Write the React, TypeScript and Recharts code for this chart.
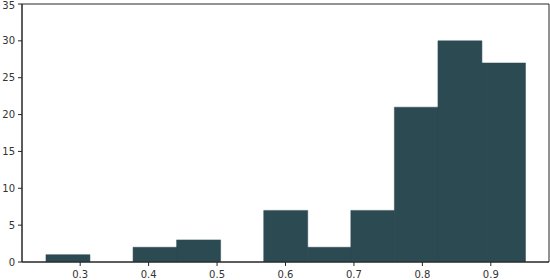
import React from 'react';
import { BarChart, Bar, XAxis, YAxis, ReferenceArea } from 'recharts';

// histogram bins (left edges) and counts
const binStarts = [0.25, 0.3136, 0.3773, 0.4409, 0.5045, 0.5682, 0.6318, 0.6955, 0.7591, 0.8227, 0.8864];
const binEnd = 0.95;
const counts = [1, 0, 2, 3, 0, 7, 2, 7, 21, 30, 27];

const xTicks = [0.3, 0.4, 0.5, 0.6, 0.7, 0.8, 0.9];
const yTicks = [0, 5, 10, 15, 20, 25, 30, 35];
const xDomain: [number, number] = [0.215, 0.985];
const yDomain: [number, number] = [0, 35];

const data = counts.map((c, i) => ({
  bin: String(i),
  center: (binStarts[i] + (binStarts[i + 1] ?? binEnd)) / 2,
  count: c,
}));

const W = 550;
const H = 280;
const M = { top: 4, right: 1, left: 0, bottom: 0 };
const Y_W = 22;
const X_H = 18;
const plotW = W - M.left - M.right - Y_W;
const span = xDomain[1] - xDomain[0];
const padL = (plotW * (binStarts[0] - xDomain[0])) / span;
const padR = (plotW * (xDomain[1] - binEnd)) / span;

const barColor = '#2C4A52';
const axisColor = '#262626';
const tickStyle = { fontSize: 10, fill: '#333', fontFamily: 'DejaVu Sans' };

const App = () => {
  return (
    <div style={{ position: 'absolute', left: 0, top: 0, background: '#fff' }}>
      <BarChart width={W} height={H} data={data} margin={M} barCategoryGap={0}>
        <XAxis
          xAxisId="val"
          dataKey="center"
          type="number"
          domain={xDomain}
          allowDataOverflow
          ticks={xTicks}
          height={X_H}
          tickSize={4}
          tickMargin={5}
          stroke={axisColor}
          tick={tickStyle}
          axisLine={{ stroke: axisColor, strokeWidth: 1 }}
        />
        <XAxis xAxisId="bins" dataKey="bin" hide height={0} padding={{ left: padL, right: padR }} />
        <YAxis
          domain={yDomain}
          ticks={yTicks}
          width={Y_W}
          tickSize={4}
          tickMargin={3}
          stroke={axisColor}
          tick={tickStyle}
          allowDataOverflow
        />
        <Bar
          dataKey="count"
          xAxisId="bins"
          fill={barColor}
          stroke={barColor}
          strokeWidth={0.5}
          isAnimationActive={false}
        />
        {/* matplotlib-style frame round the plot */}
        <ReferenceArea
          xAxisId="val"
          x1={xDomain[0]}
          x2={xDomain[1]}
          y1={yDomain[0]}
          y2={yDomain[1]}
          fill="none"
          fillOpacity={0}
          stroke={axisColor}
          strokeWidth={1}
          ifOverflow="visible"
        />
      </BarChart>
    </div>
  );
};

export default App;
